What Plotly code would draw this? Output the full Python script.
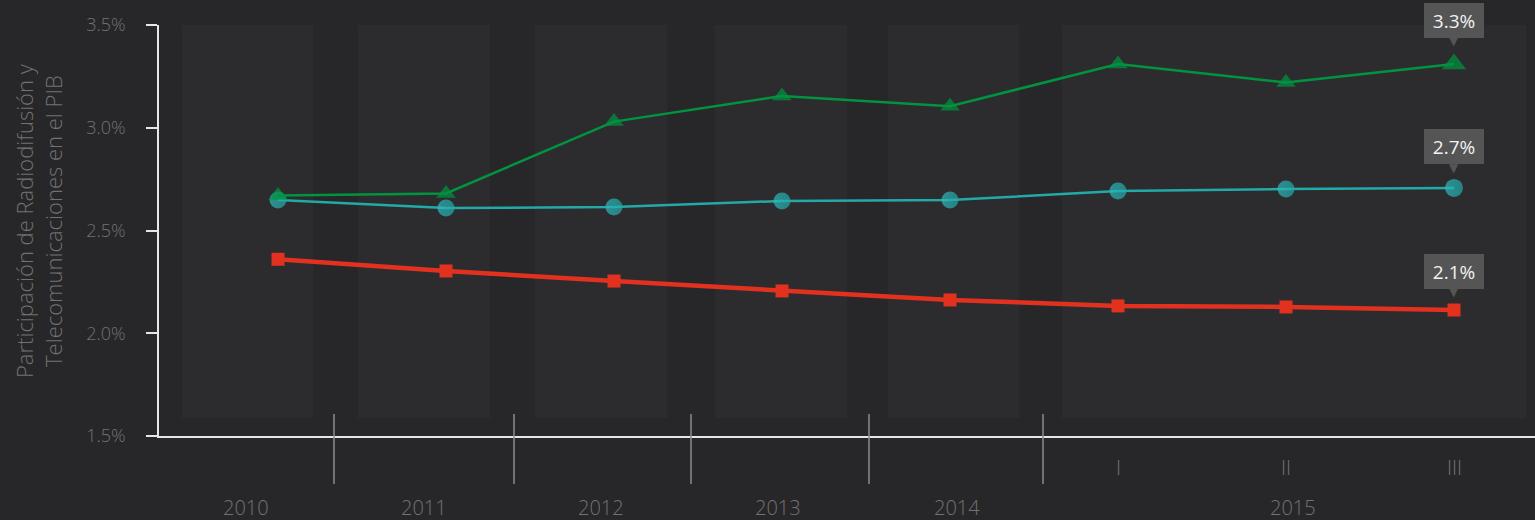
import plotly.graph_objects as go

# ---------------- data ----------------
categories = ["2010", "2011", "2012", "2013", "2014", "2015-I", "2015-II", "2015-III"]
year_labels = ["2010", "2011", "2012", "2013", "2014", "2015"]
quarter_labels = ["I", "II", "III"]

green_values = [2.67, 2.68, 3.03, 3.155, 3.105, 3.31, 3.22, 3.31]
teal_values = [2.648, 2.609, 2.614, 2.644, 2.648, 2.692, 2.702, 2.707]
red_values = [2.36, 2.303, 2.254, 2.206, 2.162, 2.133, 2.128, 2.113]

y_ticks = [1.5, 2.0, 2.5, 3.0, 3.5]
y_title = "Participación de Radiodifusión y<br>Telecomunicaciones en el PIB"

# ---------------- layout helpers (pixel geometry) ----------------
W, H = 1535, 520
L, R, T, B = 159, 0, 25, 84
plot_w = W - L - R
plot_h = H - T - B
first_px, step_px = 278, 168


def px2x(px):
    return (px - first_px) / step_px


def px2paperx(px):
    return (px - L) / plot_w


def py2paper(py):
    return (H - B - py) / plot_h


BG = "#272729"
BAND = "#2c2c2e"
TXT = "#727272"
FONT = "Open Sans"

band_edges_px = [(182, 313), (358, 490), (535, 667), (715, 847), (888, 1019), (1062, 1526)]
sep_px = [334, 514, 691, 869, 1043]
year_label_px = [246, 424, 601, 778, 957, 1293]
quarter_idx = [5, 6, 7]

fig = go.Figure()

n = len(categories)
xs = list(range(n))

# teal series
fig.add_trace(go.Scatter(
    x=xs, y=teal_values, mode="lines+markers", name="teal",
    line=dict(color="#22aaa8", width=2.5),
    marker=dict(symbol="circle", size=[17] * (n - 1) + [18], color="#30b9bd",
                gradient=dict(type="horizontal", color="#22a8a8"),
                line=dict(width=0)),
    hoverinfo="skip", showlegend=False,
))
# green series
fig.add_trace(go.Scatter(
    x=xs, y=green_values, mode="lines+markers", name="green",
    line=dict(color="#009440", width=2.5),
    marker=dict(symbol="triangle-up", size=[17] * (n - 1) + [21], color="#009440",
                line=dict(width=0)),
    hoverinfo="skip", showlegend=False,
))
# red series
fig.add_trace(go.Scatter(
    x=xs, y=red_values, mode="lines+markers", name="red",
    line=dict(color="#e2321f", width=4.5),
    marker=dict(symbol="square", size=13, color="#e2321f", line=dict(width=0)),
    hoverinfo="skip", showlegend=False,
))

shapes = []
for a, b in band_edges_px:
    shapes.append(dict(type="rect", xref="x", yref="paper",
                       x0=px2x(a), x1=px2x(b), y0=py2paper(418), y1=1,
                       fillcolor=BAND, line=dict(width=0), layer="below"))
for s in sep_px:
    shapes.append(dict(type="line", xref="x", yref="paper",
                       x0=px2x(s), x1=px2x(s), y0=py2paper(414), y1=py2paper(484),
                       line=dict(color="#8c8c8c", width=1.5)))

annotations = []
for lab, px in zip(year_labels, year_label_px):
    annotations.append(dict(text=lab, xref="x", yref="paper", x=px2x(px), y=0,
                            yshift=-71, showarrow=False, yanchor="middle",
                            font=dict(family=FONT, size=20, color=TXT, weight=300)))
for lab, i in zip(quarter_labels, quarter_idx):
    annotations.append(dict(text=lab, xref="x", yref="paper", x=i, y=0,
                            yshift=-31, showarrow=False, yanchor="middle",
                            font=dict(family=FONT, size=20, color=TXT, weight=300)))

# y-axis title placed as rotated text
annotations.append(dict(text=y_title, xref="paper", yref="paper",
                        x=px2paperx(38), y=py2paper(221), xanchor="center", yanchor="middle",
                        textangle=-90, showarrow=False,
                        font=dict(family=FONT, size=22, color=TXT, weight=300)))

# value callouts on the last point of each series
callout_shift = [44, 41, 39]
for vals, sh in zip([green_values, teal_values, red_values], callout_shift):
    annotations.append(dict(text=f"{vals[-1]:.1f}%", xref="x", yref="y", x=n - 1, y=vals[-1],
                            yshift=sh, showarrow=False, bgcolor="#555555",
                            width=50, height=25, borderpad=5, borderwidth=0,
                            font=dict(family=FONT, size=19, color="#f2f2f2")))
    annotations.append(dict(text="▼", xref="x", yref="y", x=n - 1, y=vals[-1],
                            yshift=sh - 21, showarrow=False,
                            font=dict(family="DejaVu Sans", size=12, color="#555555")))

fig.update_layout(
    width=W, height=H,
    margin=dict(l=L, r=R, t=T, b=B),
    paper_bgcolor=BG, plot_bgcolor=BG,
    shapes=shapes, annotations=annotations,
    showlegend=False,
    xaxis=dict(range=[px2x(L), px2x(W - R)], showgrid=False, zeroline=False,
               showticklabels=False, ticks="", showline=True, linecolor="#e6e6e6",
               linewidth=1.5, fixedrange=True),
    yaxis=dict(range=[1.5, 3.5], tickvals=y_ticks, ticktext=[f"{v:.1f}%" for v in y_ticks],
               showgrid=False, zeroline=False, ticks="outside", ticklen=11,
               tickcolor="#e6e6e6", tickwidth=1.5, showline=True, linecolor="#e6e6e6",
               linewidth=1.5, ticklabelstandoff=17,
               tickfont=dict(family=FONT, size=18, color=TXT, weight=300),
               fixedrange=True),
)

fig.write_html("out.html", config={"displayModeBar": False},
               post_script="document.body.style.margin='0';document.body.style.background='#272729';")
